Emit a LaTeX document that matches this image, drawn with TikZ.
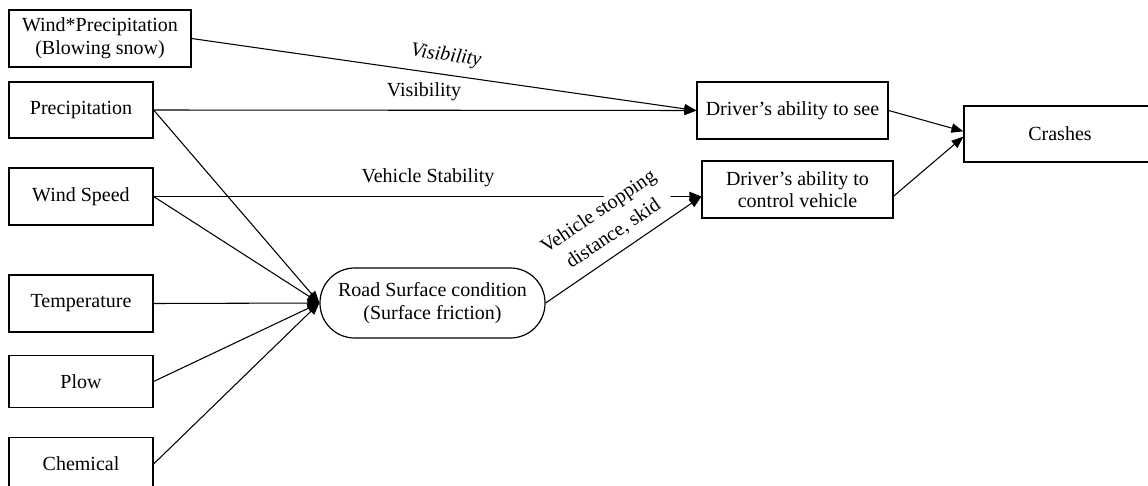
\documentclass[tikz,border=0pt]{standalone}
\usepackage{fontspec}
\setmainfont{Liberation Serif}
\usetikzlibrary{arrows.meta,calc}
\begin{document}
\begin{tikzpicture}[x=0.75pt,y=-0.75pt,
  every node/.style={font=\fontsize{15}{17}\selectfont},
  box/.style={draw,line width=0.9pt,inner sep=0pt,align=center,minimum width=108pt,minimum height=42.75pt},
  conn/.style={line width=0.8pt},
  arr/.style={conn,-{Triangle[length=9pt,width=7pt]}},
  lbl/.style={inner sep=1pt}]
\useasboundingbox (0,0) rectangle (1148,485);
\clip (0,0) rectangle (1148,485);
% left column
\node[box,minimum width=136.5pt] (wp) at (100,38.5) {Wind*Precipitation\\(Blowing snow)};
\node[box,minimum height=42pt] (prec) at (81,110) {Precipitation};
\node[box] (ws) at (81,196.5) {Wind Speed};
\node[box] (temp) at (81,303.5) {Temperature};
\node[box,minimum height=39pt] (plow) at (81,381.5) {Plow};
\node[box,minimum height=40pt] (chem) at (81,464) {Chemical};
% middle
\node[box,minimum width=168.75pt,minimum height=52.5pt,rounded corners=26pt] (road) at (432.5,303) {Road Surface condition\\(Surface friction)};
% right
\node[box,minimum width=143.25pt] (see) at (792.5,110.5) {Driver’s ability to see};
\node[box,minimum width=143.25pt] (ctrl) at (797.5,189.5) {Driver’s ability to\\control vehicle};
\node[box,minimum width=144pt,minimum height=42pt] (crash) at (1060,134) {Crashes};
\coordinate (cin) at (ws.east -| ctrl.west);
% connectors
\draw[arr] (wp.east) -- (see.west);
\draw[arr] (prec.east) -- (see.west);
\draw[arr] (ws.east) -- (cin);
\draw[arr] (road.east) -- (cin);
\draw[arr] (prec.east) -- (road.west);
\draw[arr] (ws.east) -- (road.west);
\draw[arr] (temp.east) -- (road.west);
\draw[arr] (plow.east) -- (road.west);
\draw[arr] (chem.east) -- (road.west);
\draw[arr] (see.east) -- ([yshift=2pt]crash.west);
\draw[arr] ([yshift=-5pt]ctrl.east) -- ([yshift=-2pt]crash.west);
% labels
\node[lbl,rotate=-8.1] (l1) at (446,56) {\itshape Visibility};
\node[lbl] (l2) at (424,92) {Visibility};
\node[lbl] (l3) at (428,178) {Vehicle Stability};
\node[lbl,fill=white,rotate=34,align=center,font=\fontsize{15}{20}\selectfont] (l4) at (606,223) {Vehicle stopping\\distance, skid};
\end{tikzpicture}
\end{document}
